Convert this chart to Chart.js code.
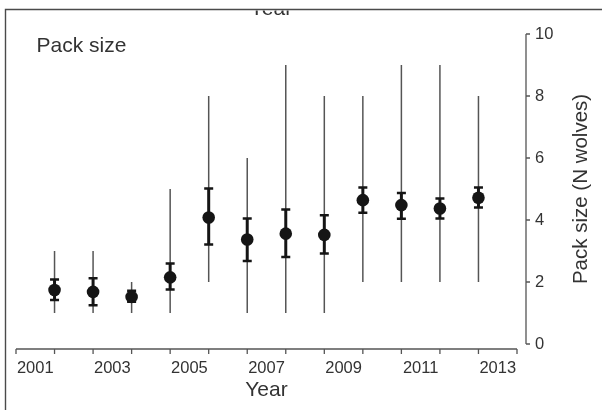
<!DOCTYPE html>
<html>
<head>
<meta charset="utf-8">
<script src="https://cdn.jsdelivr.net/npm/chart.js@4.4.1/dist/chart.umd.min.js"></script>
<style>
  html, body { margin: 0; padding: 0; background: #fff; }
  #wrap { width: 602px; height: 410px; position: relative; }
</style>
</head>
<body>
<div id="wrap"><canvas id="packChart" width="602" height="410"></canvas></div>
<script>
// Wolf pack size per year: mean, CI and min/max range
const years = [2001, 2002, 2003, 2004, 2005, 2006, 2007, 2008, 2009, 2010, 2011, 2012];
const meanSize = [1.74, 1.68, 1.52, 2.15, 4.08, 3.37, 3.56, 3.52, 4.64, 4.48, 4.37, 4.72];
const ciLow = [1.42, 1.25, 1.36, 1.76, 3.21, 2.68, 2.81, 2.92, 4.23, 4.04, 4.05, 4.40];
const ciHigh = [2.08, 2.12, 1.72, 2.60, 5.02, 4.05, 4.34, 4.15, 5.05, 4.87, 4.69, 5.05];
const rangeMin = [1, 1, 1, 1, 2, 1, 1, 1, 2, 2, 2, 2];
const rangeMax = [3, 3, 2, 5, 8, 6, 9, 8, 8, 9, 9, 8];
const xTickLabels = ['2001', '2003', '2005', '2007', '2009', '2011', '2013'];
const yTicks = [0, 2, 4, 6, 8, 10];

const TEXT = '#333';
const FONT = 'Liberation Sans, Arial, sans-serif';

// error bars + detached R-style axes + frame / extra texts
const figurePlugin = {
    id: 'figure',
    beforeDatasetsDraw(chart) {
        const { ctx, scales: { x, y } } = chart;
        ctx.save();
        years.forEach((yr, i) => {
            const px = x.getPixelForValue(yr);
            // min-max range
            ctx.strokeStyle = '#555';
            ctx.lineWidth = 1.5;
            ctx.beginPath();
            ctx.moveTo(px, y.getPixelForValue(rangeMin[i]));
            ctx.lineTo(px, y.getPixelForValue(rangeMax[i]));
            ctx.stroke();
            // confidence interval
            const lo = y.getPixelForValue(ciLow[i]);
            const hi = y.getPixelForValue(ciHigh[i]);
            ctx.strokeStyle = '#151515';
            ctx.lineWidth = 3;
            ctx.beginPath();
            ctx.moveTo(px, lo);
            ctx.lineTo(px, hi);
            ctx.stroke();
            ctx.lineWidth = 2.5;
            ctx.beginPath();
            ctx.moveTo(px - 4.5, lo); ctx.lineTo(px + 4.5, lo);
            ctx.moveTo(px - 4.5, hi); ctx.lineTo(px + 4.5, hi);
            ctx.stroke();
        });
        ctx.restore();
    },
    afterDraw(chart) {
        const { ctx, chartArea, scales: { x, y } } = chart;
        ctx.save();
        ctx.strokeStyle = '#555';
        ctx.lineWidth = 1.3;

        // x axis, a bit below the plot
        const ay = chartArea.bottom + 5;
        ctx.beginPath();
        ctx.moveTo(x.getPixelForValue(2000), ay);
        ctx.lineTo(x.getPixelForValue(2013), ay);
        for (let v = 2000; v <= 2013; v++) {
            const px = x.getPixelForValue(v);
            ctx.moveTo(px, ay);
            ctx.lineTo(px, ay + 5);
        }
        ctx.stroke();

        // y axis on the right
        const ax = chartArea.right + 9;
        ctx.beginPath();
        ctx.moveTo(ax, y.getPixelForValue(0));
        ctx.lineTo(ax, y.getPixelForValue(10));
        yTicks.forEach(v => {
            const py = y.getPixelForValue(v);
            ctx.moveTo(ax, py);
            ctx.lineTo(ax + 4, py);
        });
        ctx.stroke();

        // y title, reading bottom to top
        ctx.fillStyle = TEXT;
        ctx.font = `20.5px ${FONT}`;
        ctx.textAlign = 'center';
        ctx.textBaseline = 'middle';
        ctx.save();
        ctx.translate(581, (chartArea.top + chartArea.bottom) / 2);
        ctx.rotate(-Math.PI / 2);
        ctx.fillText('Pack size (N wolves)', 0, 0);
        ctx.restore();

        // panel label
        ctx.font = `21px ${FONT}`;
        ctx.textAlign = 'left';
        ctx.textBaseline = 'alphabetic';
        ctx.fillText('Pack size', 36.5, 51.5);

        // cropped caption from the panel above
        ctx.save();
        ctx.beginPath();
        ctx.rect(0, 10.5, 602, 10);
        ctx.clip();
        ctx.textAlign = 'center';
        ctx.fillText('Year', 271, 14.5);
        ctx.restore();

        // frame
        ctx.strokeStyle = '#4a4a4a';
        ctx.lineWidth = 1.4;
        ctx.beginPath();
        ctx.moveTo(5.5, 410);
        ctx.lineTo(5.5, 9.5);
        ctx.lineTo(602, 9.5);
        ctx.stroke();
        ctx.restore();
    }
};

new Chart(document.getElementById('packChart'), {
    type: 'scatter',
    data: {
        datasets: [{
            label: 'Pack size',
            data: years.map((yr, i) => ({ x: yr, y: meanSize[i] })),
            pointRadius: 6.3,
            pointHoverRadius: 6.3,
            backgroundColor: '#151515',
            borderWidth: 0
        }]
    },
    options: {
        responsive: false,
        animation: false,
        layout: { padding: { left: 16, top: 34, right: 0, bottom: 0 } },
        plugins: { legend: { display: false }, tooltip: { enabled: false } },
        scales: {
            x: {
                type: 'linear',
                min: 2000,
                max: 2013,
                grid: { display: false, drawTicks: false },
                border: { display: false },
                ticks: {
                    stepSize: 1,
                    autoSkip: false,
                    maxRotation: 0,
                    padding: 15,
                    labelOffset: 19.27,
                    color: TEXT,
                    font: { family: FONT, size: 16.5 },
                    callback: v => ((v - 2000) % 2 === 0 ? xTickLabels[(v - 2000) / 2] || '' : '')
                },
                title: {
                    display: true,
                    text: 'Year',
                    color: TEXT,
                    font: { family: FONT, size: 21 },
                    padding: { top: 0, bottom: 7 }
                },
                afterFit: s => { s.height = 66; s.paddingLeft = 0; s.paddingRight = 0; }
            },
            y: {
                position: 'right',
                min: 0,
                max: 10,
                grid: { display: false, drawTicks: false },
                border: { display: false },
                ticks: {
                    stepSize: 2,
                    padding: 18,
                    color: TEXT,
                    font: { family: FONT, size: 16.5 }
                },
                afterFit: s => { s.width = 85; s.paddingTop = 0; s.paddingBottom = 0; }
            }
        }
    },
    plugins: [figurePlugin]
});
</script>
</body>
</html>
